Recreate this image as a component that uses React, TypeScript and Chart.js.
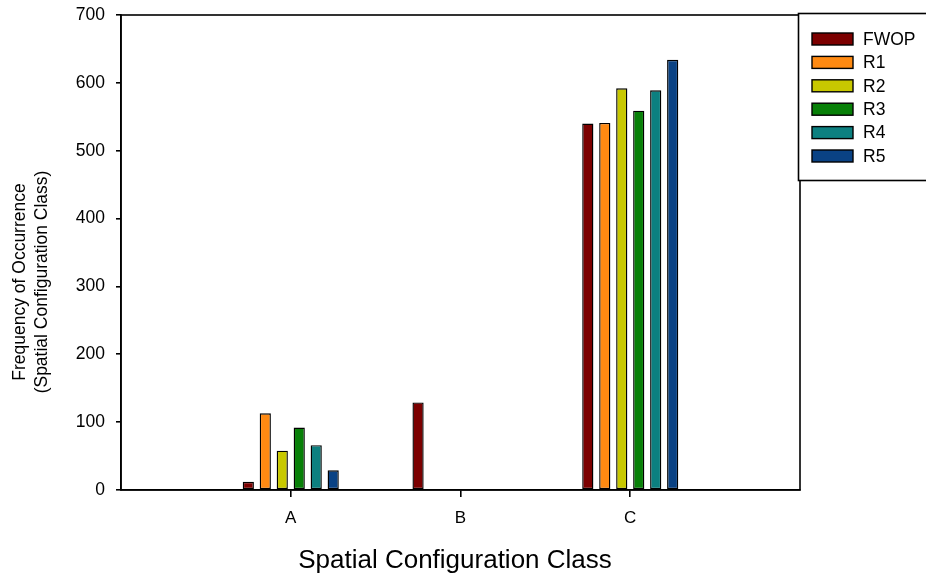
import React, { useEffect, useRef } from "react";
import { Chart, registerables } from "chart.js";

Chart.register(...registerables);

const categories = ["", "A", "B", "C", ""];
const seriesNames = ["FWOP", "R1", "R2", "R3", "R4", "R5"];
const seriesColors = ["#7c0000", "#ff8a12", "#c8c800", "#088008", "#0c8080", "#0a4284"];
const fwop = [null, 12, 129, 540, null];
const r1 = [null, 113, 0, 541, null];
const r2 = [null, 58, 0, 592, null];
const r3 = [null, 92, 0, 559, null];
const r4 = [null, 66, 0, 589, null];
const r5 = [null, 29, 0, 634, null];
const seriesValues = [fwop, r1, r2, r3, r4, r5];
const yTicks = [0, 100, 200, 300, 400, 500, 600, 700];
const xTitle = "Spatial Configuration Class";
const yTitle = ["Frequency of Occurrence", "(Spatial Configuration Class)"];

const FONT = "'Liberation Sans', Arial, sans-serif";
const LW = 1.6;

const frameAndLegend = {
  id: "frameAndLegend",
  afterDraw(chart: any) {
    const { ctx, chartArea } = chart;
    ctx.save();
    ctx.strokeStyle = "#000";
    ctx.lineWidth = LW;
    ctx.strokeRect(
      Math.round(chartArea.left),
      Math.round(chartArea.top),
      Math.round(chartArea.right - chartArea.left),
      Math.round(chartArea.bottom - chartArea.top)
    );
    // axis titles
    ctx.fillStyle = "#000";
    ctx.font = `26px ${FONT}`;
    ctx.textAlign = "center";
    ctx.textBaseline = "alphabetic";
    ctx.fillText(xTitle, 455, 568);
    ctx.save();
    ctx.translate(0, 282);
    ctx.rotate(-Math.PI / 2);
    ctx.font = `17.5px ${FONT}`;
    ctx.textBaseline = "middle";
    ctx.fillText(yTitle[0], 0, 20.5);
    ctx.fillText(yTitle[1], 0, 42);
    ctx.restore();
    // legend box
    const bx = 798.5, by = 13.5, bw = 160, bh = 167;
    ctx.fillStyle = "#fff";
    ctx.fillRect(bx, by, bw, bh);
    ctx.lineWidth = LW;
    ctx.strokeRect(bx, by, bw, bh);
    ctx.font = `17.5px ${FONT}`;
    ctx.textBaseline = "middle";
    ctx.textAlign = "left";
    chart.data.datasets.forEach((ds: any, i: number) => {
      const cy = 39 + i * 23.4;
      ctx.fillStyle = ds.backgroundColor;
      ctx.fillRect(812, cy - 6, 41, 12);
      ctx.lineWidth = 1.4;
      ctx.strokeStyle = "#000";
      ctx.strokeRect(812, cy - 6, 41, 12);
      ctx.fillStyle = "#000";
      ctx.fillText(ds.label, 863, cy + 1);
    });
    ctx.restore();
  },
};

export default function App() {
  const ref = useRef<HTMLCanvasElement | null>(null);
  useEffect(() => {
    if (!ref.current) return;
    const chart = new Chart(ref.current, {
      type: "bar",
      data: {
        labels: categories,
        datasets: seriesNames.map((name, i) => ({
          label: name,
          data: seriesValues[i] as any,
          backgroundColor: seriesColors[i],
          borderColor: "#000",
          borderWidth: (c: any) => (c.raw ? 1.4 : 0),
          borderSkipped: false,
          categoryPercentage: 0.6,
          barPercentage: 0.66,
        })),
      },
      options: {
        responsive: false,
        animation: false,
        layout: { padding: { top: 15, right: 126, left: 0, bottom: 0 } },
        plugins: { legend: { display: false }, tooltip: { enabled: false } },
        scales: {
          x: {
            type: "category",
            offset: false,
            afterFit: (s: any) => {
              s.height = 88;
              s.paddingLeft = 0;
              s.paddingRight = 0;
            },
            grid: {
              offset: false,
              drawOnChartArea: false,
              drawTicks: true,
              tickLength: 7,
              color: (c: any) => (c.index === 0 || c.index === 4 ? "rgba(0,0,0,0)" : "#000"),
              lineWidth: LW,
            },
            border: { display: true, color: "#000", width: LW },
            ticks: {
              color: "#000",
              font: { family: FONT, size: 17 },
              padding: 11,
              autoSkip: false,
              maxRotation: 0,
            },
            title: { display: false },
          },
          y: {
            min: 0,
            max: 700,
            afterFit: (s: any) => {
              s.width = 121;
              s.paddingTop = 0;
              s.paddingBottom = 0;
            },
            afterBuildTicks: (s: any) => {
              s.ticks = yTicks.map((v) => ({ value: v }));
            },
            grid: {
              drawOnChartArea: false,
              drawTicks: true,
              tickLength: 5,
              color: "#000",
              lineWidth: LW,
            },
            border: { display: true, color: "#000", width: LW },
            ticks: {
              color: "#000",
              font: { family: FONT, size: 17.5 },
              padding: 11,
            },
            title: { display: false },
          },
        },
      },
      plugins: [frameAndLegend],
    });
    return () => chart.destroy();
  }, []);
  return (
    <div style={{ position: "absolute", left: 0, top: 0, width: 926, height: 578, background: "#fff" }}>
      <canvas ref={ref} width={926} height={578} />
    </div>
  );
}
